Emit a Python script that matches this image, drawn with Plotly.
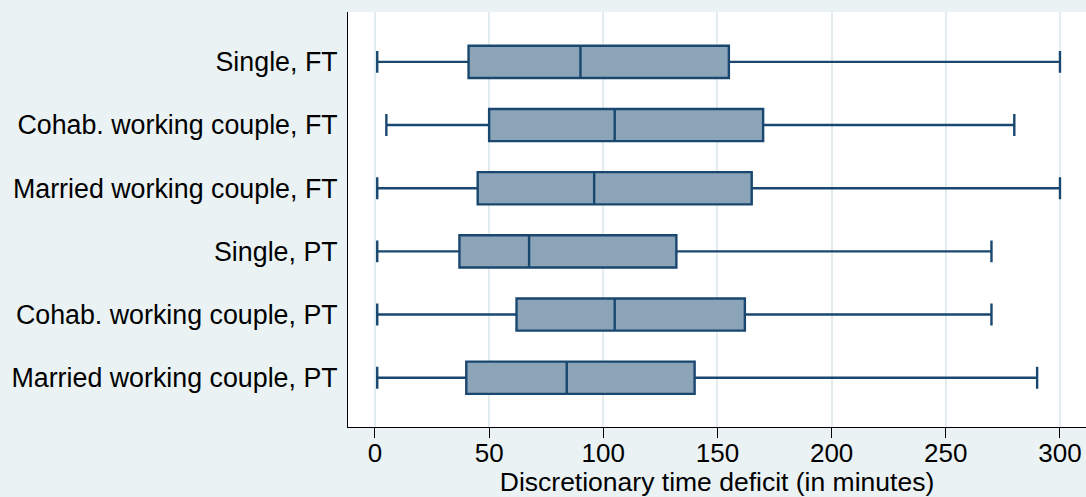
import plotly.graph_objects as go

categories = ["Single, FT", "Cohab. working couple, FT", "Married working couple, FT",
              "Single, PT", "Cohab. working couple, PT", "Married working couple, PT"]
lower = [1, 5, 1, 1, 1, 1]
q1 = [41, 50, 45, 37, 62, 40]
median = [90, 105, 96, 67.5, 105, 84]
q3 = [155, 170, 165, 132, 162, 140]
upper = [300, 280, 300, 270, 270, 290]
x_ticks = [0, 50, 100, 150, 200, 250, 300]

BG = "#EAF2F3"
NAVY = "#1A476F"
FILL = "#8CA4B8"
FONT = "Liberation Sans, Arial, sans-serif"

fig = go.Figure()
fig.add_trace(go.Box(
    y=categories, q1=q1, median=median, q3=q3,
    lowerfence=lower, upperfence=upper,
    orientation="h", width=0.51, whiskerwidth=0.68,
    fillcolor=FILL, line=dict(color=NAVY, width=2.4),
    boxpoints=False, showlegend=False, hoverinfo="skip",
))

fig.update_layout(
    width=1086, height=497,
    margin=dict(l=348, r=0, t=12, b=70, autoexpand=False),
    paper_bgcolor=BG, plot_bgcolor="white",
    font=dict(family=FONT, size=26, color="black"),
    xaxis=dict(
        range=[-11.8, 311.4], tickvals=x_ticks, ticks="outside", ticklen=10,
        tickcolor="black", tickwidth=1, automargin=False, ticklabelstandoff=-7,
        showline=True, linecolor="black", linewidth=1,
        showgrid=True, gridcolor="#E3EDF0", gridwidth=2, zeroline=False,
        tickfont=dict(size=26),
        title=dict(text="Discretionary time deficit (in minutes)", standoff=6,
                   font=dict(size=26.5)),
    ),
    yaxis=dict(
        type="category", categoryorder="array", categoryarray=categories,
        range=[5.78, -0.79], showline=True, linecolor="black", linewidth=1,
        showgrid=False, zeroline=False, ticks="", ticklabelstandoff=4,
        automargin=False, tickfont=dict(size=26.8),
    ),
)

fig.write_html("out.html", config={"displayModeBar": False},
               post_script="document.body.style.margin='0';")
